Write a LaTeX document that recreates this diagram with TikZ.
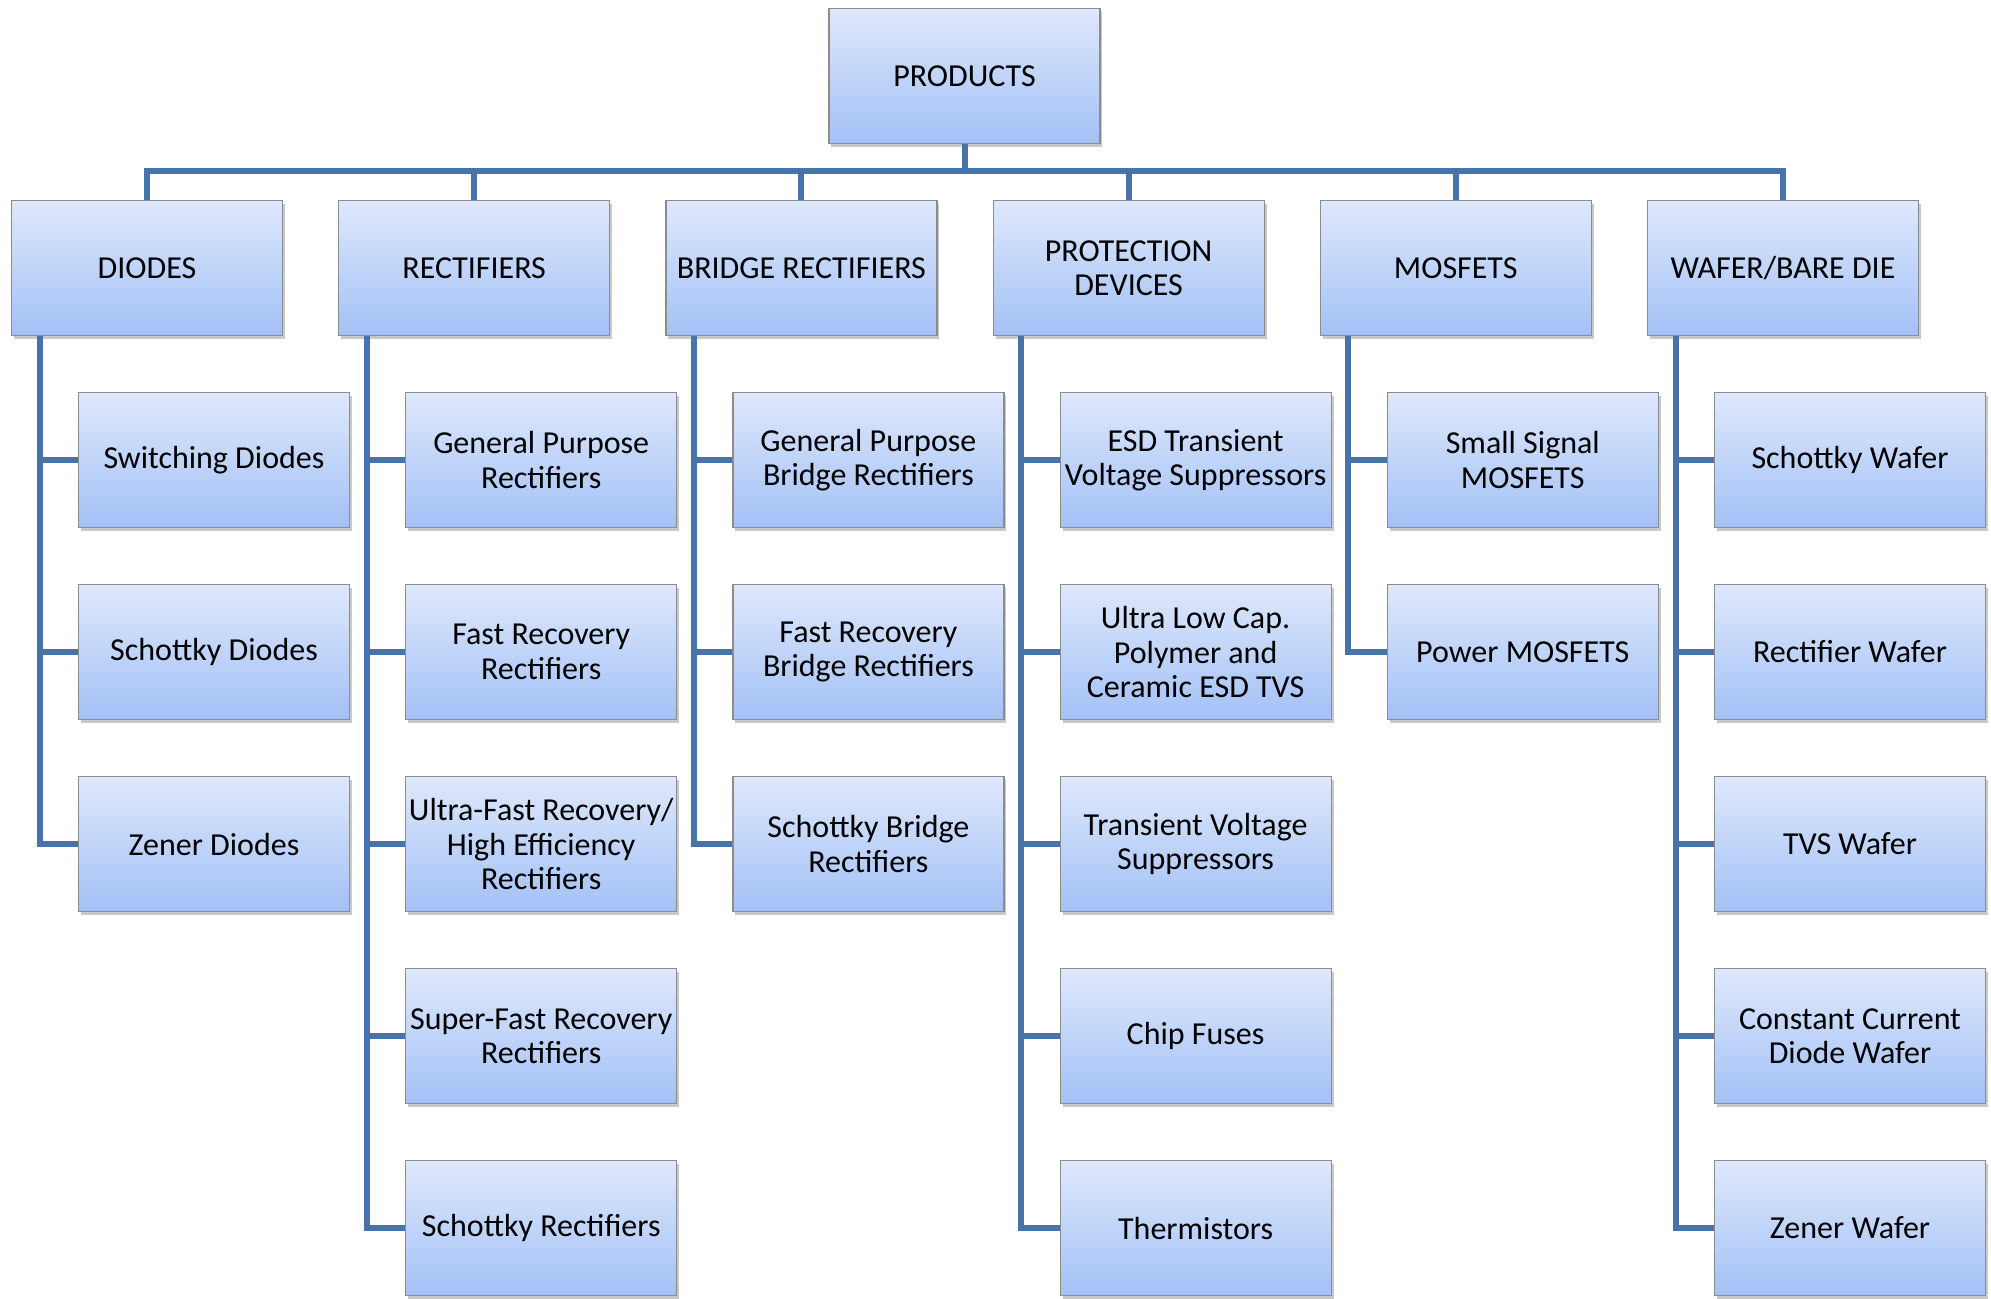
\documentclass[tikz,border=0pt]{standalone}
\usepackage{fontspec}
\setmainfont{Carlito}
\usetikzlibrary{shadows}
\definecolor{conncol}{RGB}{72,114,170}
\definecolor{boxtop}{RGB}{222,232,252}
\definecolor{boxbot}{RGB}{163,193,246}
\definecolor{boxline}{RGB}{140,140,140}
\begin{document}
\begin{tikzpicture}[x=0.5pt,y=-0.5pt,
 box/.style={draw=boxline, line width=0.6pt, top color=boxtop, bottom color=boxbot,
   minimum width=135.5pt, minimum height=67.5pt, inner sep=1pt, align=center,
   font=\fontsize{16}{17.2}\selectfont,
   drop shadow={shadow xshift=1.2pt, shadow yshift=-1.8pt, opacity=0.3, fill=black!70}},
 conn/.style={draw=conncol, line width=3pt}]
\useasboundingbox (0,0) rectangle (1991,1298);
\coordinate (bus) at (0,171);
% top
\node[box] (P) at (964.5,76) {PRODUCTS};
% level 1
\node[box] (D) at (147,268) {DIODES};
\node[box] (R) at (474.2,268) {RECTIFIERS};
\node[box] (B) at (801.4,268) {BRIDGE RECTIFIERS};
\node[box] (T) at (1128.6,268) {PROTECTION\\DEVICES};
\node[box] (M) at (1455.8,268) {MOSFETS};
\node[box] (W) at (1783,268) {WAFER/BARE DIE};
% diodes
\node[box] (D1) at (214,460) {Switching Diodes};
\node[box] (D2) at (214,652) {Schottky Diodes};
\node[box] (D3) at (214,844) {Zener Diodes};
% rectifiers
\node[box] (R1) at (541.2,460) {General Purpose\\Rectifiers};
\node[box] (R2) at (541.2,652) {Fast Recovery\\Rectifiers};
\node[box] (R3) at (541.2,844) {Ultra-Fast Recovery/\\High Efficiency\\Rectifiers};
\node[box] (R4) at (541.2,1036) {Super-Fast Recovery\\Rectifiers};
\node[box] (R5) at (541.2,1228) {Schottky Rectifiers};
% bridge
\node[box] (B1) at (868.4,460) {General Purpose\\Bridge Rectifiers};
\node[box] (B2) at (868.4,652) {Fast Recovery\\Bridge Rectifiers};
\node[box] (B3) at (868.4,844) {Schottky Bridge\\Rectifiers};
% protection
\node[box] (T1) at (1195.6,460) {ESD Transient\\Voltage Suppressors};
\node[box] (T2) at (1195.6,652) {Ultra Low Cap.\\Polymer and\\Ceramic ESD TVS};
\node[box] (T3) at (1195.6,844) {Transient Voltage\\Suppressors};
\node[box] (T4) at (1195.6,1036) {Chip Fuses};
\node[box] (T5) at (1195.6,1228) {Thermistors};
% mosfets
\node[box] (M1) at (1522.8,460) {Small Signal\\MOSFETS};
\node[box] (M2) at (1522.8,652) {Power MOSFETS};
% wafer
\node[box] (W1) at (1850,460) {Schottky Wafer};
\node[box] (W2) at (1850,652) {Rectifier Wafer};
\node[box] (W3) at (1850,844) {TVS Wafer};
\node[box] (W4) at (1850,1036) {Constant Current\\Diode Wafer};
\node[box] (W5) at (1850,1228) {Zener Wafer};
% bus connectors
\foreach \n in {D,R,B,T,M,W}
  \draw[conn] (P.south) -- (P.south |- bus) -| (\n.north);
% trunk connectors
\foreach \n/\k in {D/1,D/2,D/3,R/1,R/2,R/3,R/4,R/5,B/1,B/2,B/3,T/1,T/2,T/3,T/4,T/5,M/1,M/2,W/1,W/2,W/3,W/4,W/5}
  \draw[conn] ([xshift=-53.75pt]\n.south) |- (\n\k.west);
\end{tikzpicture}
\end{document}
